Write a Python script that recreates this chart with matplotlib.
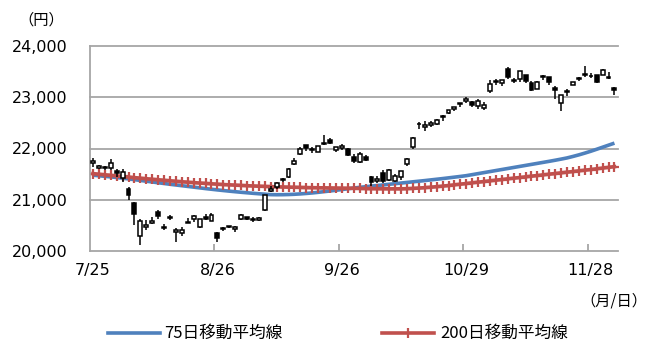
import matplotlib.pyplot as plt
from matplotlib.lines import Line2D
import numpy as np

# 日経平均 日足 (7/25 - 12/4)
dates = ["7/25", "7/26", "7/29", "7/30", "7/31", "8/1", "8/2", "8/5", "8/6", "8/7",
         "8/8", "8/9", "8/13", "8/14", "8/15", "8/16", "8/19", "8/20", "8/21", "8/22",
         "8/23", "8/26", "8/27", "8/28", "8/29", "8/30", "9/2", "9/3", "9/4", "9/5",
         "9/6", "9/9", "9/10", "9/11", "9/12", "9/13", "9/17", "9/18", "9/19", "9/20",
         "9/24", "9/25", "9/26", "9/27", "9/30", "10/1", "10/2", "10/3", "10/4", "10/7",
         "10/8", "10/9", "10/10", "10/11", "10/15", "10/16", "10/17", "10/18", "10/21", "10/23",
         "10/24", "10/25", "10/28", "10/29", "10/30", "10/31", "11/1", "11/5", "11/6", "11/7",
         "11/8", "11/11", "11/12", "11/13", "11/14", "11/15", "11/18", "11/19", "11/20", "11/21",
         "11/22", "11/25", "11/26", "11/27", "11/28", "11/29", "12/2", "12/3", "12/4"]

opens = [21710, 21620, 21640, 21621, 21570, 21426, 21211, 20941, 20301, 20468,
         20550, 20770, 20470, 20635, 20364, 20344, 20552, 20623, 20470, 20660,
         20590, 20347, 20437, 20460, 20430, 20633, 20658, 20600, 20600, 20800,
         21172, 21250, 21388, 21440, 21700, 21900, 22066, 21983, 21939, 22105,
         22159, 21965, 22010, 21982, 21835, 21731, 21837, 21436, 21362, 21528,
         21386, 21369, 21436, 21695, 22025, 22475, 22412, 22456, 22480, 22608,
         22698, 22779, 22882, 22919, 22907, 22827, 22800, 23118, 23318, 23281,
         23550, 23319, 23364, 23427, 23286, 23170, 23391, 23386, 23185, 22882,
         23100, 23237, 23361, 23432, 23421, 23436, 23439, 23374, 23181]

highs = [21823, 21686, 21652, 21792, 21600, 21594, 21240, 20960, 20630, 20600,
         20666, 20800, 20520, 20700, 20440, 20470, 20640, 20700, 20632, 20720,
         20735, 20378, 20470, 20493, 20480, 20720, 20664, 20660, 20670, 21100,
         21270, 21334, 21420, 21611, 21812, 22020, 22070, 22035, 22058, 22255,
         22200, 22030, 22086, 22015, 21885, 21938, 21865, 21471, 21455, 21575,
         21598, 21496, 21562, 21818, 22220, 22522, 22529, 22535, 22570, 22650,
         22760, 22808, 22896, 23008, 22918, 22960, 22906, 23328, 23357, 23339,
         23591, 23367, 23520, 23427, 23325, 23314, 23432, 23403, 23220, 23045,
         23166, 23306, 23392, 23608, 23472, 23436, 23550, 23491, 23198]

lows = [21648, 21601, 21590, 21590, 21450, 21340, 21000, 20514, 20110, 20406,
        20535, 20630, 20415, 20600, 20184, 20300, 20540, 20570, 20456, 20600,
        20576, 20173, 20400, 20450, 20374, 20606, 20605, 20570, 20580, 20790,
        21150, 21214, 21347, 21431, 21680, 21869, 21955, 21904, 21939, 22076,
        22080, 21931, 21979, 21852, 21716, 21716, 21756, 21277, 21336, 21331,
        21372, 21356, 21379, 21658, 21992, 22374, 22346, 22417, 22464, 22529,
        22666, 22734, 22809, 22880, 22810, 22762, 22750, 23090, 23243, 23215,
        23359, 23269, 23306, 23270, 23114, 23161, 23346, 23245, 22965, 22727,
        23017, 23237, 23315, 23401, 23377, 23285, 23429, 23348, 23044]

closes = [21757, 21658, 21617, 21709, 21522, 21541, 21087, 20720, 20585, 20517,
          20593, 20685, 20455, 20655, 20406, 20419, 20563, 20677, 20619, 20628,
          20711, 20261, 20456, 20479, 20461, 20704, 20620, 20625, 20649, 21086,
          21200, 21318, 21392, 21598, 21760, 21988, 22001, 21961, 22044, 22079,
          22099, 22020, 22048, 21879, 21756, 21885, 21779, 21342, 21410, 21375,
          21588, 21456, 21552, 21799, 22207, 22473, 22452, 22493, 22549, 22625,
          22751, 22800, 22867, 22974, 22843, 22927, 22851, 23252, 23304, 23330,
          23392, 23332, 23520, 23320, 23142, 23303, 23417, 23293, 23149, 23039,
          23113, 23293, 23373, 23438, 23409, 23294, 23530, 23380, 23135]

ma75 = [21480, 21468, 21457, 21446, 21434, 21421, 21407, 21392, 21377, 21362,
        21347, 21332, 21317, 21302, 21288, 21274, 21260, 21246, 21232, 21218,
        21205, 21192, 21180, 21168, 21157, 21146, 21136, 21126, 21117, 21109,
        21100, 21098, 21099, 21102, 21107, 21114, 21123, 21133, 21145, 21158,
        21171, 21185, 21199, 21214, 21229, 21242, 21254, 21266, 21278, 21290,
        21302, 21314, 21326, 21338, 21350, 21362, 21374, 21387, 21400, 21413,
        21427, 21441, 21455, 21470, 21490, 21510, 21530, 21550, 21570, 21590,
        21610, 21630, 21650, 21670, 21690, 21710, 21730, 21750, 21771, 21793,
        21816, 21845, 21876, 21910, 21946, 21985, 22025, 22065, 22105]

ma200 = [21510, 21498, 21487, 21476, 21465, 21454, 21443, 21432, 21421, 21410,
         21400, 21390, 21380, 21370, 21360, 21351, 21342, 21334, 21326, 21318,
         21311, 21304, 21297, 21291, 21285, 21279, 21274, 21269, 21264, 21260,
         21256, 21252, 21249, 21246, 21243, 21240, 21238, 21236, 21234, 21232,
         21230, 21228, 21226, 21224, 21222, 21220, 21218, 21216, 21215, 21214,
         21213, 21213, 21213, 21216, 21221, 21228, 21236, 21245, 21255, 21266,
         21278, 21291, 21304, 21317, 21330, 21343, 21356, 21369, 21382, 21395,
         21408, 21421, 21434, 21447, 21460, 21473, 21486, 21499, 21512, 21525,
         21538, 21551, 21564, 21577, 21590, 21604, 21618, 21632, 21646]

tick_dates = ["7/25", "8/26", "9/26", "10/29", "11/28"]
y_ticks = [20000, 21000, 22000, 23000, 24000]

jp = ["Noto Sans CJK JP", "DejaVu Sans"]
grey = "#a6a6a6"
blue = "#4f81bd"
red = "#c0504d"

fig = plt.figure(figsize=(6.5, 3.41), dpi=100)
ax = fig.add_axes([90 / 650, 1 - 251 / 341, 528 / 650, 205 / 341])

x = np.arange(len(dates))
o = np.array(opens)
c = np.array(closes)

# 移動平均線
ax.plot(x, ma75, color=blue, lw=2.6, zorder=2, solid_capstyle="butt")
ax.plot(x, ma200, color=red, lw=2.6, marker="+", ms=7, mew=1.6, zorder=2)

# ローソク足
ax.vlines(x, lows, highs, color="black", lw=1.1, zorder=3)
body = np.maximum(np.abs(c - o), 12)
face = np.where(c >= o, "white", "black")
ax.bar(x, body, bottom=np.minimum(o, c), width=0.66, color=face,
       edgecolor="black", lw=1.1, zorder=4)

ax.set_ylim(20000, 24000)
ax.set_xlim(-0.5, len(dates) - 0.4)

for v in y_ticks:
    ax.axhline(v, color=grey, lw=1.3, zorder=1, clip_on=False)

ax.set_yticks(y_ticks)
ax.set_yticklabels([f"{v:,}" for v in y_ticks], fontsize=11.5)
ax.tick_params(axis="y", length=0, pad=16)

ax.set_xticks([dates.index(d) for d in tick_dates])
ax.set_xticklabels(tick_dates, fontsize=11.5)
ax.set_xticks([dates.index(d) - 0.5 for d in tick_dates[1:]], minor=True)
ax.tick_params(axis="x", which="major", length=0, pad=9)
ax.tick_params(axis="x", which="minor", length=5, direction="in", color=grey, width=1.3)

for s in ["top", "right", "bottom"]:
    ax.spines[s].set_visible(False)
ax.spines["left"].set_color(grey)
ax.spines["left"].set_linewidth(1.3)

fig.text(41 / 650, 1 - 20 / 341, "（円）", family=jp, fontsize=11,
         ha="center", va="center")
fig.text(614 / 650, 1 - 301 / 341, "（月/日）", family=jp, fontsize=11,
         ha="center", va="center")

# 凡例
ly = 1 - 333 / 341
fig.add_artist(Line2D([108 / 650, 160 / 650], [ly, ly], color=blue, lw=2.6))
fig.text(164 / 650, ly, "75日移動平均線", family=jp, fontsize=12, va="center")
fig.add_artist(Line2D([382 / 650, 434 / 650], [ly, ly], color=red, lw=2.6))
fig.add_artist(Line2D([408 / 650], [ly], color=red, marker="|", ms=7, mew=1.6))
fig.text(440 / 650, ly, "200日移動平均線", family=jp, fontsize=12, va="center")

fig.savefig("out.png", dpi=100)
